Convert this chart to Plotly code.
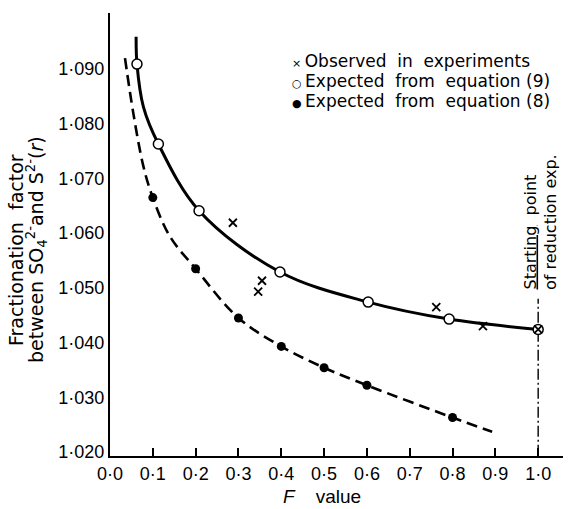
import plotly.graph_objects as go

# ---- data ----
x_tick_vals = [0.0, 0.1, 0.2, 0.3, 0.4, 0.5, 0.6, 0.7, 0.8, 0.9, 1.0]
x_tick_text = ["0·0", "0·1", "0·2", "0·3", "0·4", "0·5", "0·6", "0·7", "0·8", "0·9", "1·0"]
y_tick_vals = [1.020, 1.030, 1.040, 1.050, 1.060, 1.070, 1.080, 1.090]
y_tick_text = ["1·020", "1·030", "1·040", "1·050", "1·060", "1·070", "1·080", "1·090"]

# observed in experiments (crosses)
obs_F = [0.287, 0.346, 0.355, 0.762, 0.871, 1.0]
obs_r = [1.0619, 1.0493, 1.0513, 1.0465, 1.0430, 1.0424]

# expected from equation (9) (open circles)
eq9_F = [0.063, 0.113, 0.208, 0.397, 0.603, 0.792, 1.0]
eq9_r = [1.0909, 1.0763, 1.0641, 1.0529, 1.0474, 1.0443, 1.0424]

# expected from equation (8) (filled circles)
eq8_F = [0.1, 0.2, 0.3, 0.4, 0.5, 0.6, 0.8]
eq8_r = [1.0665, 1.0535, 1.0445, 1.0393, 1.0354, 1.0322, 1.0263]

# traced points along the drawn curves
curve9_F = [0.061, 0.063, 0.078, 0.113, 0.208, 0.397, 0.603, 0.792, 1.0]
curve9_r = [1.0959, 1.0909, 1.0831, 1.0763, 1.0641, 1.0529, 1.0474, 1.0443, 1.0424]
curve8_F = [0.035, 0.0545, 0.078, 0.1, 0.14, 0.2, 0.3, 0.4, 0.5, 0.6, 0.8, 0.8925]
curve8_r = [1.0920, 1.0819, 1.0722, 1.0665, 1.0594, 1.0535, 1.0445, 1.0393, 1.0354, 1.0322, 1.0263, 1.0237]

# starting point marker line
start_F = [1.0, 1.0]
start_r = [1.0193, 1.0480]

X_RANGE = [0.0, 1.058]
Y_RANGE = [1.01927, 1.10024]

FONT = "Liberation Sans"
WIDE = "DejaVu Sans"
W, H = 579, 509
ML, MR, MT, MB = 110, 16, 13, 53


def px(x):
    return (x - ML) / (W - ML - MR)


def py(y):
    return (H - MB - y) / (H - MT - MB)


fig = go.Figure()

fig.add_trace(go.Scatter(x=start_F, y=start_r, mode="lines",
                         line=dict(color="black", width=1.4, dash="11px,3px,2px,3px"),
                         showlegend=False, hoverinfo="skip"))
fig.add_trace(go.Scatter(x=curve8_F, y=curve8_r, mode="lines",
                         line=dict(color="black", width=2.6, dash="11px,6px", shape="spline", smoothing=1.0),
                         showlegend=False, hoverinfo="skip"))
fig.add_trace(go.Scatter(x=curve9_F, y=curve9_r, mode="lines",
                         line=dict(color="black", width=3, shape="spline", smoothing=1.0),
                         showlegend=False, hoverinfo="skip"))
fig.add_trace(go.Scatter(x=eq8_F, y=eq8_r, mode="markers", name="Expected from equation (8)",
                         marker=dict(symbol="circle", size=9, color="black"),
                         showlegend=False))
fig.add_trace(go.Scatter(x=eq9_F, y=eq9_r, mode="markers", name="Expected from equation (9)",
                         marker=dict(symbol="circle", size=10, color="white",
                                     line=dict(color="black", width=1.5)),
                         showlegend=False))
fig.add_trace(go.Scatter(x=obs_F, y=obs_r, mode="markers", name="Observed in experiments",
                         marker=dict(symbol="x-thin", size=8, color="black",
                                     line=dict(color="black", width=1.8)),
                         showlegend=False))

annotations = []
legend_rows = [
    ("×", "Observed  in  experiments", 61),
    ("○", "Expected  from  equation (9)", 81),
    ("●", "Expected  from  equation (8)", 101),
]
for sym, txt, yy in legend_rows:
    annotations.append(dict(
        x=px(290), y=py(yy), xref="paper", yref="paper", xanchor="left", yanchor="middle",
        text="<span style='font-size:11px'>" + sym + " </span>" + txt, showarrow=False,
        font=dict(family=WIDE, size=17, color="black")))

# y-axis title, one annotation per line
for txt, xx in [("Fractionation  factor", 16),
                ("between SO<sub>4</sub><sup>2-</sup>and S<sup>2-</sup>(<i>r</i>)", 36)]:
    annotations.append(dict(
        x=px(xx), y=py(250), xref="paper", yref="paper", xanchor="center", yanchor="middle",
        textangle=-90, showarrow=False, text=txt,
        font=dict(family=WIDE, size=19, color="black")))

annotations.append(dict(
    x=px(322), y=py(496), xref="paper", yref="paper", xanchor="center", yanchor="middle",
    showarrow=False, text="<i>F</i>    value",
    font=dict(family=FONT, size=19, color="black")))

for txt, xx in [("<u>Starting</u>  point", 530), ("of reduction exp.", 550)]:
    annotations.append(dict(
        x=px(xx), y=py(292), xref="paper", yref="paper", xanchor="center", yanchor="bottom",
        textangle=-90, showarrow=False, text=txt,
        font=dict(family=WIDE, size=16, color="black")))

fig.update_layout(
    width=W, height=H,
    margin=dict(l=ML, r=MR, t=MT, b=MB),
    paper_bgcolor="white", plot_bgcolor="white",
    showlegend=False,
    annotations=annotations,
    font=dict(family=FONT, color="black"),
)
fig.update_xaxes(range=X_RANGE, showline=True, linecolor="black", linewidth=2,
                 ticks="inside", ticklen=8, tickwidth=1.5, tickcolor="black",
                 tickvals=x_tick_vals, ticktext=x_tick_text,
                 tickfont=dict(family=FONT, size=18, color="black"),
                 showgrid=False, zeroline=False)
fig.update_yaxes(range=Y_RANGE, showline=True, linecolor="black", linewidth=2,
                 ticks="", tickvals=y_tick_vals, ticktext=y_tick_text,
                 tickfont=dict(family=FONT, size=18, color="black"),
                 showgrid=False, zeroline=False)

fig.write_html("out.html")
